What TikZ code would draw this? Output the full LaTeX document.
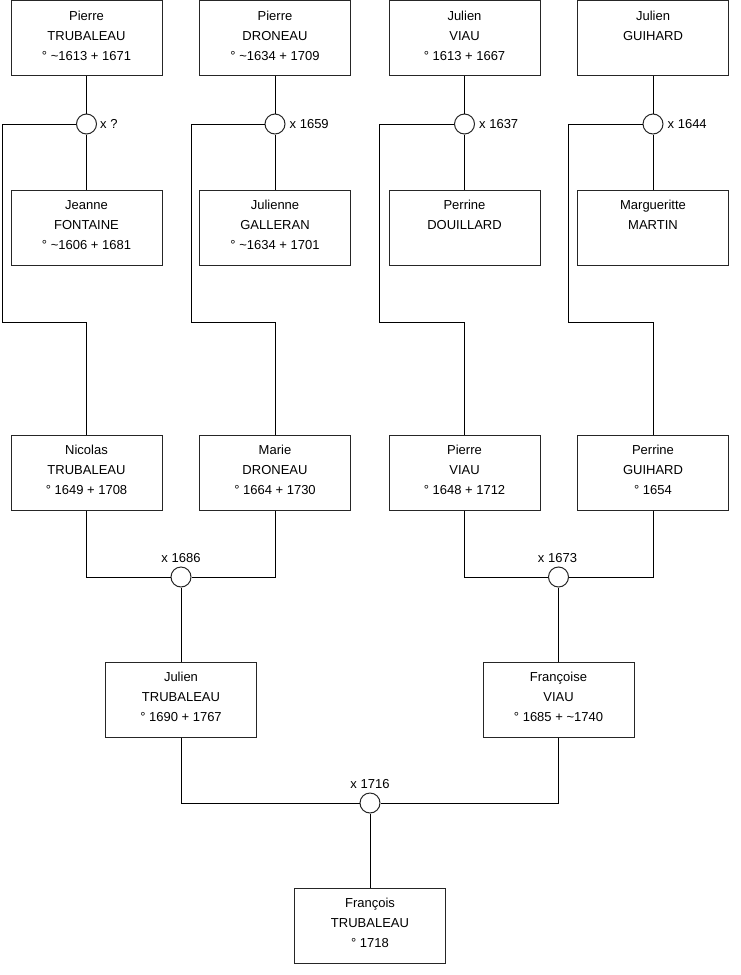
\documentclass[tikz,border=0pt]{standalone}
\usepackage{fontspec}
\setmainfont{Liberation Sans}
\newcommand{\famtext}[1]{\parbox[c][75pt][t]{151pt}{\centering\fontsize{13pt}{20pt}\selectfont\rule{0pt}{19.7pt}#1\par}}
\begin{document}
\begin{tikzpicture}[x=1pt,y=-1pt,
  person/.style={draw=black!85, rectangle, inner sep=0pt, line width=1pt},
  marr/.style={draw=black!85, circle, minimum size=20pt, inner sep=0pt, fill=white, line width=1pt},
  lbl/.style={inner sep=0pt, font=\fontsize{13pt}{15pt}\selectfont},
  link/.style={line width=1pt, draw=black}]
\useasboundingbox (0,0) rectangle (740,975);

% row 0
\node[person] (a1) at (86.5,38) {\famtext{Pierre\\TRUBALEAU\\° \textasciitilde1613 + 1671}};
\node[person] (a2) at (275,38) {\famtext{Pierre\\DRONEAU\\° \textasciitilde1634 + 1709}};
\node[person] (a3) at (464.5,38) {\famtext{Julien\\VIAU\\° 1613 + 1667}};
\node[person] (a4) at (653,38) {\famtext{Julien\\GUIHARD}};
% row 1
\node[person] (b1) at (86.5,227.5) {\famtext{Jeanne\\FONTAINE\\° \textasciitilde1606 + 1681}};
\node[person] (b2) at (275,227.5) {\famtext{Julienne\\GALLERAN\\° \textasciitilde1634 + 1701}};
\node[person] (b3) at (464.5,227.5) {\famtext{Perrine\\DOUILLARD}};
\node[person] (b4) at (653,227.5) {\famtext{Margueritte\\MARTIN}};
% row 2
\node[person] (c1) at (86.5,472.5) {\famtext{Nicolas\\TRUBALEAU\\° 1649 + 1708}};
\node[person] (c2) at (275,472.5) {\famtext{Marie\\DRONEAU\\° 1664 + 1730}};
\node[person] (c3) at (464.5,472.5) {\famtext{Pierre\\VIAU\\° 1648 + 1712}};
\node[person] (c4) at (653,472.5) {\famtext{Perrine\\GUIHARD\\° 1654}};
% row 3
\node[person] (d1) at (181,699.5) {\famtext{Julien\\TRUBALEAU\\° 1690 + 1767}};
\node[person] (d2) at (558.5,699.5) {\famtext{Françoise\\VIAU\\° 1685 + \textasciitilde1740}};
% row 4
\node[person] (e1) at (370,925.5) {\famtext{François\\TRUBALEAU\\° 1718}};

% marriage circles
\node[marr] (m1) at (86.5,124) {};
\node[marr] (m2) at (275,124) {};
\node[marr] (m3) at (464.5,124) {};
\node[marr] (m4) at (653,124) {};
\node[marr] (m5) at (181,577) {};
\node[marr] (m6) at (558.5,577) {};
\node[marr] (m7) at (370,803) {};

% bend points
\coordinate (k1) at (2,322);
\coordinate (k2) at (191,322);
\coordinate (k3) at (379,322);
\coordinate (k4) at (568,322);

% connectors
\foreach \i in {1,2,3,4}{
  \draw[link] (a\i.south) -- (m\i.north);
  \draw[link] (m\i.south) -- (b\i.north);
  \draw[link] (m\i.west) -| (k\i) -| (c\i.north);
}
\draw[link] (c1.south) |- (m5.west);
\draw[link] (c2.south) |- (m5.east);
\draw[link] (m5.south) -- (d1.north);
\draw[link] (c3.south) |- (m6.west);
\draw[link] (c4.south) |- (m6.east);
\draw[link] (m6.south) -- (d2.north);
\draw[link] (d1.south) |- (m7.west);
\draw[link] (d2.south) |- (m7.east);
\draw[link] (m7.south) -- (e1.north);

% labels
\node[lbl, anchor=base west] (l1) at ([xshift=3pt,yshift=-4.6pt]m1.east) {x ?};
\node[lbl, anchor=base west] (l2) at ([xshift=4pt,yshift=-4.6pt]m2.east) {x 1659};
\node[lbl, anchor=base west] (l3) at ([xshift=4pt,yshift=-4.6pt]m3.east) {x 1637};
\node[lbl, anchor=base west] (l4) at ([xshift=4pt,yshift=-4.6pt]m4.east) {x 1644};
\node[lbl, anchor=base] (l5) at ([yshift=4.3pt]m5.north) {x 1686};
\node[lbl, anchor=base] (l6) at ([xshift=-1pt,yshift=4.3pt]m6.north) {x 1673};
\node[lbl, anchor=base] (l7) at ([yshift=4.3pt]m7.north) {x 1716};
\end{tikzpicture}
\end{document}
